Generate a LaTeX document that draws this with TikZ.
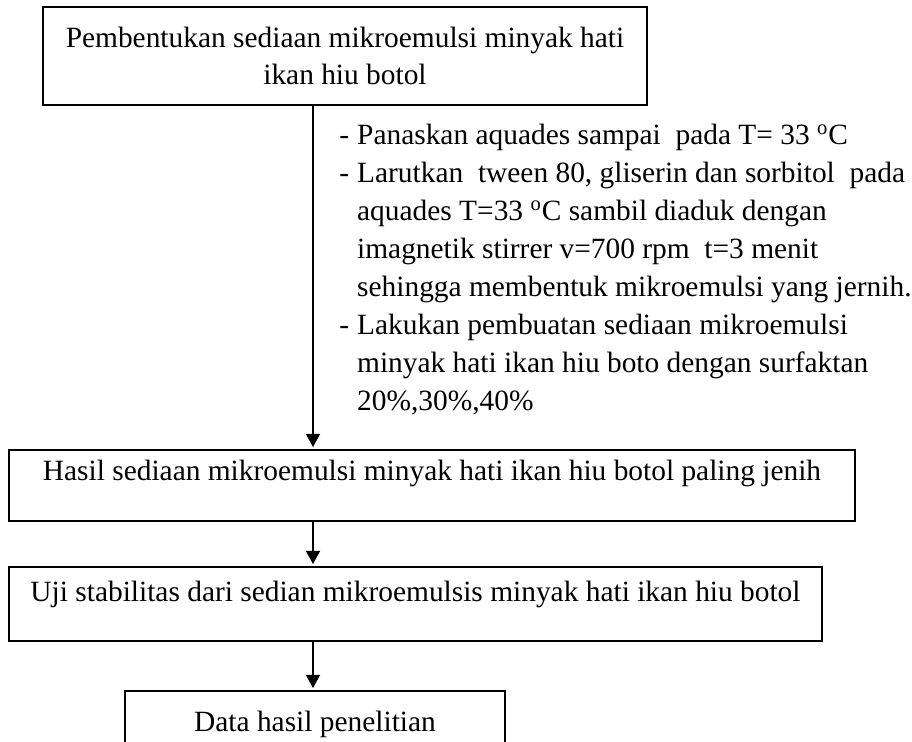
\documentclass[tikz,border=0pt]{standalone}
\usepackage{fontspec}
\setmainfont{Liberation Serif}
\usetikzlibrary{arrows.meta}

\begin{document}
\begin{tikzpicture}[x=0.5pt, y=-0.5pt,
    box/.style={draw, line width=1pt, inner sep=0pt},
    arr/.style={line width=0.7pt, -{Triangle[length=6.5pt, width=7pt]}, shorten >=1pt},
    font=\fontsize{14.7}{18.5}\selectfont]
    \useasboundingbox (0, 0) rectangle (912, 742);
    \clip (0, 0) rectangle (912, 742);
    \coordinate (axis) at (313, 0);
    \node[box, minimum width=302pt, minimum height=49pt, align=center] (pembentukan) at (345, 56) {Pembentukan sediaan mikroemulsi minyak hati\\ikan hiu botol};
    \node[anchor=north west, inner sep=0pt, font=\fontsize{14.7}{19}\selectfont] (langkah) at (339, 118) {\begin{tabular}{@{}l@{\hspace{4pt}}l@{}}
        - & Panaskan aquades sampai\ \ pada T= 33 \textsuperscript{o}C\\
        - & Larutkan\ \ tween 80, gliserin dan sorbitol\ \ pada\\
          & aquades T=33 \textsuperscript{o}C sambil diaduk dengan\\
          & imagnetik stirrer v=700 rpm\ \ t=3 menit\\
          & sehingga membentuk mikroemulsi yang jernih.\\
        - & Lakukan pembuatan sediaan mikroemulsi\\
          & minyak hati ikan hiu boto dengan surfaktan\\
          & 20\%,30\%,40\%
    \end{tabular}};
    \node[box, minimum width=423pt, minimum height=35.5pt] (hasil) at (432, 485.5) {};
    \node[anchor=base] (hasillabel) at ([yshift=-16pt]hasil.north) {Hasil sediaan mikroemulsi minyak hati ikan hiu botol paling jenih};
    \node[box, minimum width=406.5pt, minimum height=37pt] (uji) at (415.5, 604) {};
    \node[anchor=base] (ujilabel) at ([yshift=-18pt]uji.north) {Uji stabilitas dari sedian mikroemulsis minyak hati ikan hiu botol};
    \node[box, minimum width=190pt, minimum height=40pt] (data) at (315, 731) {};
    \node[anchor=base] (datalabel) at ([yshift=-21pt]data.north) {Data hasil penelitian};
    \draw[arr] (pembentukan.south -| axis) -- (hasil.north -| axis);
    \draw[arr] (hasil.south -| axis) -- (uji.north -| axis);
    \draw[arr] (uji.south -| axis) -- (data.north -| axis);
\end{tikzpicture}
\end{document}
